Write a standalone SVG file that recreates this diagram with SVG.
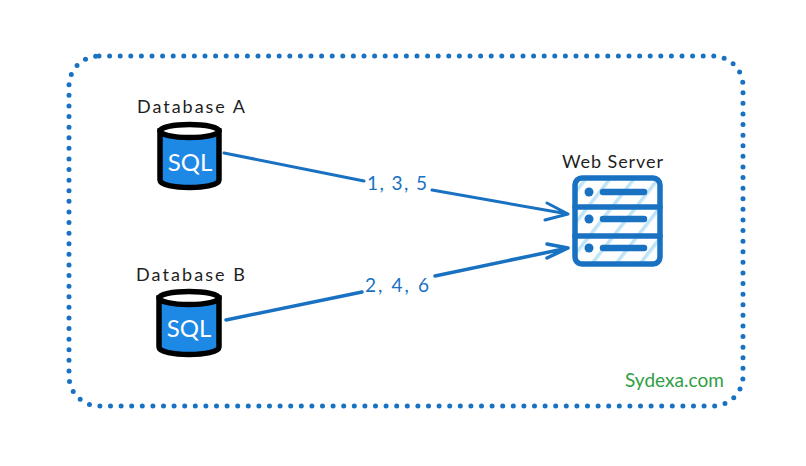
<svg xmlns="http://www.w3.org/2000/svg" width="806" height="466" viewBox="0 0 806 466">
<defs>
<pattern id="hatch" patternUnits="userSpaceOnUse" width="19" height="19" patternTransform="rotate(38)">
<rect width="19" height="19" fill="#fff"/>
<rect x="0" y="0" width="3.500" height="19" fill="#bfe3f7"/>
</pattern>
</defs>
<style>
.t{font-family:"Lato","Liberation Sans",sans-serif;font-size:18px;fill:#1e1e1e}
.l{font-family:"Lato","Liberation Sans",sans-serif;font-size:19px;fill:#1971c2}
.c{fill:none;stroke:#1971c2;stroke-width:3;stroke-linecap:round;stroke-linejoin:round}
.b{fill:none;stroke:#1971c2;stroke-width:5.500;stroke-linecap:round;stroke-linejoin:round}
.bar{fill:none;stroke:#1971c2;stroke-width:6.500;stroke-linecap:round}
.cyl{fill:#1e88e5;stroke:#000;stroke-width:5.500}
.top{fill:#fff;stroke:#000;stroke-width:5.500}
.sql{font-family:"Lato","Liberation Sans",sans-serif;font-size:24px;fill:#fff;text-anchor:middle}
</style>
<rect width="806" height="466" fill="#fff"/>
<g id="frame"><rect x="69" y="56" width="674" height="350" rx="30" ry="30" fill="none" stroke="#1971c2" stroke-width="5" stroke-linecap="round" stroke-dasharray="0 10.6"/></g>
<g id="connectors">
<path class="c" d="M224 153L364 181M432 190L568 214M547 203L568 214L545 220"/>
<path class="c" style="stroke-width:3.500" d="M226 320L362 292M435 276L568 248M547 244L568 248L547 258"/>
<text class="l" x="367" y="190" textLength="60">1, 3, 5</text>
<text class="l" x="365" y="292" textLength="64">2, 4, 6</text>
</g>
<g id="database-a">
<text class="t" x="137" y="113" textLength="108">Database A</text>
<path class="cyl" d="M160 131V180C160 190 219 190 219 180V131Z"/>
<ellipse class="top" cx="189.500" cy="131" rx="29.500" ry="6.500"/>
<text class="sql" x="190" y="171">SQL</text>
</g>
<g id="database-b">
<text class="t" x="136" y="281" textLength="109">Database B</text>
<path class="cyl" d="M159 298V347C159 357 219 357 219 347V298Z"/>
<ellipse class="top" cx="189" cy="298" rx="30" ry="6.500"/>
<text class="sql" x="189" y="337">SQL</text>
</g>
<g id="web-server">
<text class="t" x="562" y="168" textLength="101">Web Server</text>
<rect x="575" y="178" width="85" height="86" rx="7" fill="url(#hatch)"/>
<rect class="b" x="575" y="178" width="85" height="86" rx="7"/>
<path class="b" d="M575 207H660M575 236H660"/>
<circle cx="589" cy="192" r="4.500" fill="#1971c2"/>
<circle cx="589" cy="219" r="4.500" fill="#1971c2"/>
<circle cx="589" cy="248" r="4.500" fill="#1971c2"/>
<path class="bar" d="M603 192H644M603 219H644M603 248H644"/>
</g>
<g id="brand"><text x="625" y="387" textLength="99" style="font-family:'Lato','Liberation Sans',sans-serif;font-size:19px;fill:#2f9e44">Sydexa.com</text></g>
</svg>
